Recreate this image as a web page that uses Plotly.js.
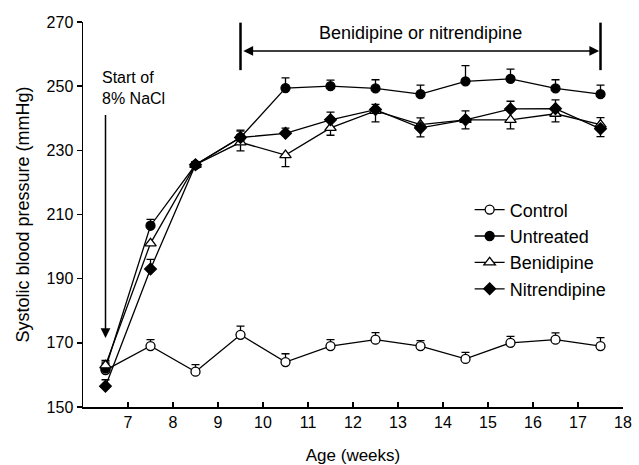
<!DOCTYPE html>
<html>
<head>
<meta charset="utf-8">
<script src="https://cdn.plot.ly/plotly-3.0.1.min.js"></script>
<style>html,body{margin:0;padding:0;background:#fff;}#chart{width:639px;height:465px;}</style>
</head>
<body>
<div id="chart"></div>
<script>
// ---- data ----
var ages = [6.5, 7.5, 8.5, 9.5, 10.5, 11.5, 12.5, 13.5, 14.5, 15.5, 16.5, 17.5];
var xTicks = [7, 8, 9, 10, 11, 12, 13, 14, 15, 16, 17, 18];
var yTicks = [150, 170, 190, 210, 230, 250, 270];

var control = [161.5, 169, 161, 172.5, 164, 169, 171, 169, 165, 170, 171, 169];
var controlErrPlus = [2.5, 2, 2.2, 2.7, 2.6, 2, 2.2, 1.7, 2, 2, 2.1, 2.6];
var controlErrMinus = [0, 0, 0, 0, 0, 0, 0, 0, 0, 0, 0, 0];

var untreated = [162, 206.5, 225.5, 234, 249.4, 250, 249.3, 247.5, 251.5, 252.3, 249.3, 247.5];
var untreatedErrPlus = [1.5, 2, 1, 2, 3.2, 1.9, 2.7, 2.8, 4.9, 3, 2.7, 2.8];
var untreatedErrMinus = [0, 0, 0, 0, 0, 0, 0, 0, 0, 0, 0, 0];

var benidipine = [163, 201, 225.5, 232.5, 228.5, 237, 242.3, 238, 239.5, 239.5, 241.4, 238];
var benidipineErrPlus = [1.5, 0, 0, 0, 0, 0, 0, 2.1, 0, 0, 0, 2.2];
var benidipineErrMinus = [0, 0, 1, 2.7, 3.6, 2.3, 3.4, 0, 2.8, 2.8, 2.5, 0];

var nitrendipine = [156.5, 193, 225.5, 234, 235.3, 239.5, 242.7, 237, 239.5, 242.9, 243, 236.7];
var nitrendipineErrPlus = [2, 3, 1, 2.3, 1.6, 2.4, 1.6, 0, 2.8, 2.4, 2.7, 0];
var nitrendipineErrMinus = [0, 0, 0, 0, 0, 0, 0, 2.8, 0, 0, 0, 2.4];

var saltStart = 6.5;
var treatStart = 9.5;
var treatEnd = 17.5;

// ---- styles ----
var FONT = 'Liberation Sans, Arial, sans-serif';
function errStyle(plus, minus) {
  return {type: 'data', symmetric: false, array: plus, arrayminus: minus,
          color: '#000', thickness: 1.3, width: 4};
}
function series(name, y, plus, minus, symbol, fill, size) {
  return {
    type: 'scatter', mode: 'lines+markers', name: name,
    x: ages, y: y,
    line: {color: '#000', width: 1.3},
    marker: {symbol: symbol, size: size, color: fill, line: {color: '#000', width: 1.3}},
    error_y: errStyle(plus, minus)
  };
}

var traces = [
  series('Control', control, controlErrPlus, controlErrMinus, 'circle', '#fff', 9),
  series('Untreated', untreated, untreatedErrPlus, untreatedErrMinus, 'circle', '#000', 9),
  series('Benidipine', benidipine, benidipineErrPlus, benidipineErrMinus, 'triangle-up', '#fff', 10),
  series('Nitrendipine', nitrendipine, nitrendipineErrPlus, nitrendipineErrMinus, 'diamond', '#000', 9)
];

var layout = {
  width: 639, height: 465,
  margin: {l: 83, r: 16, t: 22, b: 58},
  paper_bgcolor: '#fff', plot_bgcolor: '#fff',
  font: {family: FONT, color: '#000', size: 16},
  showlegend: true,
  legend: {x: 0.716, y: 0.56, xanchor: 'left', yanchor: 'top',
           font: {family: FONT, size: 18, color: '#000'},
           bgcolor: 'rgba(0,0,0,0)', borderwidth: 0, tracegroupgap: 0, itemwidth: 30},
  xaxis: {
    range: [6, 18], tickvals: xTicks, ticktext: xTicks.map(String),
    showgrid: false, zeroline: false, showline: true, linecolor: '#000', linewidth: 1.5,
    ticks: 'inside', ticklen: 5, tickwidth: 1.5, tickcolor: '#000',
    tickfont: {family: FONT, size: 16, color: '#000'},
    title: {text: 'Age (weeks)', font: {family: FONT, size: 17, color: '#000'}, standoff: 20}
  },
  yaxis: {
    range: [150, 270], tickvals: yTicks, ticktext: yTicks.map(String),
    showgrid: false, zeroline: false, showline: true, linecolor: '#000', linewidth: 1.5,
    ticks: 'outside', ticklen: 5, tickwidth: 1.5, tickcolor: '#000',
    tickfont: {family: FONT, size: 16, color: '#000'},
    title: {text: 'Systolic blood pressure (mmHg)', font: {family: FONT, size: 18, color: '#000'}, standoff: 12}
  },
  shapes: [
    {type: 'line', xref: 'x', yref: 'y', x0: treatStart, x1: treatStart, y0: 255, y1: 269.8,
     line: {color: '#000', width: 2.5}},
    {type: 'line', xref: 'x', yref: 'y', x0: treatEnd, x1: treatEnd, y0: 255, y1: 269.8,
     line: {color: '#000', width: 2.5}}
  ],
  annotations: [
    {xref: 'x', yref: 'y', x: treatEnd - 0.03, y: 261, axref: 'x', ayref: 'y',
     ax: treatStart + 0.03, ay: 261, text: '', showarrow: true,
     arrowhead: 2, startarrowhead: 2, arrowside: 'end+start', arrowsize: 1.3, startarrowsize: 1.3,
     arrowwidth: 1.5, arrowcolor: '#000'},
    {xref: 'x', yref: 'y', x: (treatStart + treatEnd) / 2, y: 266.6, text: 'Benidipine or nitrendipine',
     showarrow: false, font: {family: FONT, size: 18, color: '#000'}},
    {xref: 'x', yref: 'y', x: saltStart, y: 171.5, axref: 'x', ayref: 'y',
     ax: saltStart, ay: 241.5, text: '', showarrow: true,
     arrowhead: 2, arrowsize: 1.3, arrowwidth: 1.5, arrowcolor: '#000'},
    {xref: 'x', yref: 'y', x: 6.38, y: 249.5, xanchor: 'left', align: 'left',
     text: 'Start of<br>8% NaCl', showarrow: false,
     font: {family: FONT, size: 16, color: '#000'}}
  ]
};

Plotly.newPlot('chart', traces, layout, {staticPlot: true, displayModeBar: false});
</script>
</body>
</html>
